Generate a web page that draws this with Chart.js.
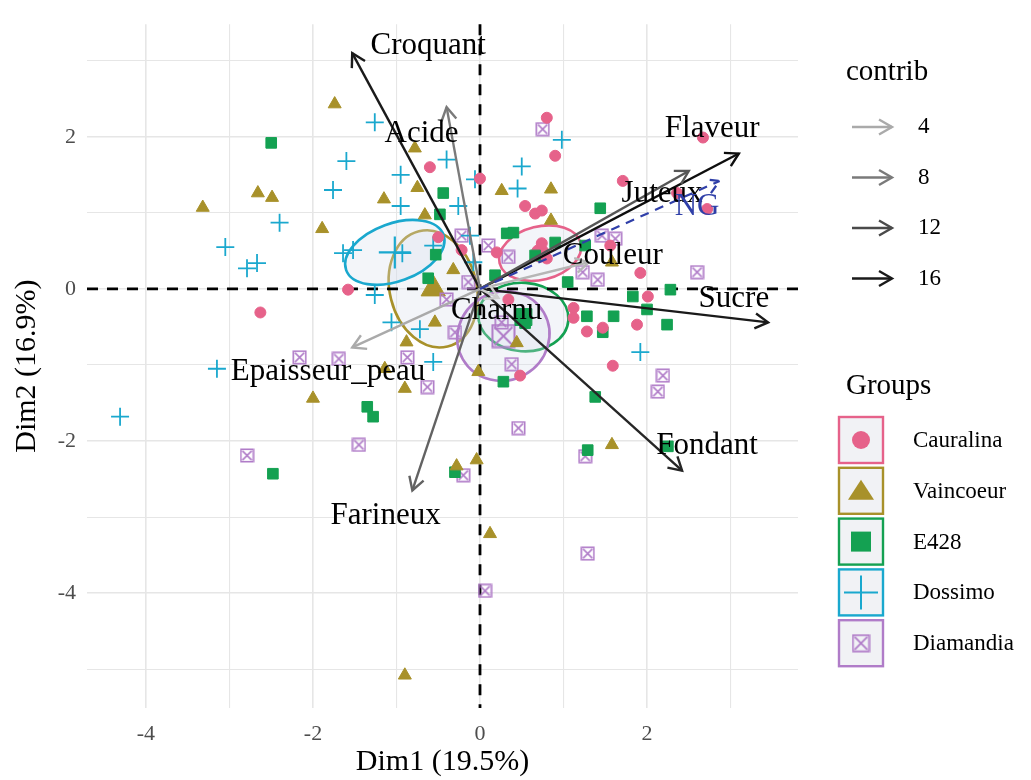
<!DOCTYPE html>
<html>
<head>
<meta charset="utf-8">
<script src="https://cdn.jsdelivr.net/npm/chart.js@4.4.1/dist/chart.umd.min.js"></script>
<style>
  html, body { margin: 0; padding: 0; background: #fff; }
  #wrap { width: 1031px; height: 780px; }
</style>
</head>
<body>
<div id="wrap"><canvas id="biplot" width="1031" height="780"></canvas></div>
<script>
// --- individuals, per cultivar (Dim1, Dim2) ---
const caurX = [0.80, 0.90, -0.60, 0.00, 0.54, 0.66, 0.74, 1.71, 2.36, 2.72, 2.67, 1.92, 2.01, 0.74, 0.80, 0.20, 1.56, 0.34, 1.12, 1.12, 1.28, 1.47, 1.88, 1.59, 0.48, -0.50, -0.22, -1.58, -2.63];
const caurY = [2.25, 1.75, 1.60, 1.45, 1.09, 0.99, 1.03, 1.42, 1.26, 1.05, 1.99, 0.21, -0.10, 0.60, 0.40, 0.48, 0.57, -0.14, -0.25, -0.38, -0.56, -0.51, -0.47, -1.01, -1.14, 0.68, 0.51, -0.01, -0.31];

const vainX = [-1.74, -0.78, -0.75, -2.66, -2.49, -3.32, -1.15, -1.89, -0.66, -0.32, 0.26, 0.85, 0.85, 1.58, -0.54, -0.88, -1.14, -0.90, -2.00, -0.28, -0.04, 1.58, 0.12, 0.44, -0.02, -0.90];
const vainY = [2.43, 1.85, 1.33, 1.26, 1.20, 1.07, 1.18, 0.79, 0.97, 0.25, 1.29, 1.31, 0.90, 0.35, -0.44, -0.70, -1.05, -1.31, -1.44, -2.33, -2.25, -2.05, -3.22, -0.71, -1.09, -5.08];

const e428X = [-2.50, -0.44, -0.48, -0.53, -0.62, 1.44, 0.32, 0.40, 0.66, 0.90, 1.26, 1.05, 2.28, 1.83, 2.00, 1.28, 1.60, 1.47, 2.24, 0.54, 0.28, 1.38, 1.29, 2.25, -0.30, -1.35, -1.28, -2.48, 0.18];
const e428Y = [1.92, 1.26, 0.98, 0.45, 0.14, 1.06, 0.73, 0.74, 0.44, 0.61, 0.57, 0.09, -0.01, -0.10, -0.27, -0.36, -0.36, -0.57, -0.47, -0.45, -1.22, -1.42, -2.12, -2.07, -2.41, -1.55, -1.68, -2.43, 0.18];

const dossX = [-1.26, -1.60, -1.76, -0.95, -0.40, -0.26, -0.06, -0.95, -2.40, -3.05, -2.79, -2.67, -1.64, -1.52, -0.93, -0.08, -1.26, 0.98, 0.50, 0.45, -0.12, -4.31, -3.15, -1.06, -0.72, -0.56, 1.92, -0.56];
const dossY = [2.19, 1.68, 1.30, 1.50, 1.70, 1.09, 1.44, 1.09, 0.87, 0.55, 0.27, 0.34, 0.47, 0.51, 0.47, 0.35, -0.08, 1.96, 1.61, 1.32, 0.70, -1.68, -1.05, -0.44, -0.53, -0.96, -0.83, 0.57];

const diamX = [0.75, 1.46, 1.62, 2.60, 0.10, 0.34, 1.23, 1.41, -0.22, -0.14, -0.40, -2.16, -1.69, -0.87, -0.63, -0.30, -1.45, -2.79, -0.20, 0.38, 2.19, 2.13, 0.46, 1.26, 1.29, 0.06, 0.26];
const diamY = [2.10, 0.70, 0.66, 0.22, 0.57, 0.42, 0.22, 0.12, 0.70, 0.09, -0.14, -0.90, -0.92, -0.90, -1.29, -0.57, -2.05, -2.19, -2.45, -0.99, -1.14, -1.35, -1.83, -2.20, -3.48, -3.97, -0.44];

const groups = ['Cauralina', 'Vaincoeur', 'E428', 'Dossimo', 'Diamandia'];
const groupX = [caurX, vainX, e428X, dossX, diamX];
const groupY = [caurY, vainY, e428Y, dossY, diamY];
const meanX = [0.72, -0.56, 0.52, -1.02, 0.28];
const meanY = [0.47, 0.00, -0.37, 0.48, -0.62];

// --- variables (arrow tips) and contribution ---
const varNames = ['Croquant', 'Acide', 'Flaveur', 'Juteux', 'Couleur', 'Sucre', 'Fondant', 'Farineux', 'Epaisseur_peau', 'Charnu'];
const varX = [-1.53, -0.40, 3.10, 2.50, 1.30, 3.45, 2.42, -0.81, -1.53, 0.22];
const varY = [3.10, 2.39, 1.78, 1.55, 0.35, -0.44, -2.39, -2.65, -0.77, -0.12];
const varContrib = [16, 8, 17, 11, 3, 16, 15, 10, 4, 1];
const suppName = 'NG';
const suppX = 2.87;
const suppY = 1.42;
const contribTicks = [4, 8, 12, 16];
const xTicks = [-4, -2, 0, 2];
const yTicks = [2, 0, -2, -4];

// label anchors (data units)
const labelX = [-0.62, -0.70, 2.78, 2.18, 1.59, 3.04, 2.72, -1.13, -1.82, 0.20];
const labelY = [3.20, 2.04, 2.10, 1.25, 0.44, -0.13, -2.06, -2.98, -1.09, -0.29];
const suppLabel = [2.60, 1.08];

// ellipses: semi-axes in axis units, screen rotation in degrees
const ellRx = [0.50, 0.52, 0.54, 0.62, 0.56];
const ellRy = [0.35, 0.78, 0.45, 0.38, 0.58];
const ellRot = [-14, -14, 4, -20, -30];

const colors = ['#E6628A', '#A8912A', '#14A152', '#1AA8CE', '#B07CC8'];
const SERIF = "'Liberation Serif', 'DejaVu Serif', serif";

const greyFor = (c) => {
    const g = Math.max(10, Math.min(215, Math.round(218 - 12 * c)));
    return `rgb(${g},${g},${g})`;
};

// boxed cross marker for Diamandia
const boxCross = (size, lw) => {
    const c = document.createElement('canvas');
    c.width = c.height = size;
    const g = c.getContext('2d');
    g.strokeStyle = colors[4];
    g.lineWidth = lw;
    const p = lw / 2 + 0.5;
    g.strokeRect(p, p, size - 2 * p, size - 2 * p);
    const q = p + lw;
    g.beginPath();
    g.moveTo(q, q); g.lineTo(size - q, size - q);
    g.moveTo(size - q, q); g.lineTo(q, size - q);
    g.stroke();
    return c;
};

const styles = ['circle', 'triangle', 'rect', 'cross', boxCross(15, 1.6)];
const radii = [5.5, 7.5, 7.5, 9, 7.5];
const meanStyles = ['circle', 'triangle', 'rect', 'cross', boxCross(25, 2)];
const meanRadii = [9, 14, 12, 16, 12.5];

const datasets = [];
groups.forEach((name, i) => {
    datasets.push({
        label: name,
        data: groupX[i].map((v, k) => ({ x: v, y: groupY[i][k] })),
        pointStyle: styles[i],
        pointRadius: radii[i],
        backgroundColor: colors[i],
        borderColor: colors[i],
        borderWidth: i === 3 ? 1.8 : 1
    });
});
groups.forEach((name, i) => {
    datasets.push({
        label: name + ' mean',
        data: [{ x: meanX[i], y: meanY[i] }],
        pointStyle: meanStyles[i],
        pointRadius: meanRadii[i],
        backgroundColor: colors[i],
        borderColor: colors[i],
        borderWidth: i === 3 ? 2.2 : 1
    });
});

const drawArrow = (ctx, x0, y0, x1, y1, color, width, dash) => {
    ctx.save();
    ctx.strokeStyle = color;
    ctx.lineWidth = width;
    ctx.setLineDash(dash || []);
    ctx.beginPath();
    ctx.moveTo(x0, y0);
    ctx.lineTo(x1, y1);
    ctx.stroke();
    const a = Math.atan2(y1 - y0, x1 - x0), h = 15, s = Math.PI / 6;
    ctx.beginPath();
    ctx.moveTo(x1 - h * Math.cos(a - s), y1 - h * Math.sin(a - s));
    ctx.lineTo(x1, y1);
    ctx.lineTo(x1 - h * Math.cos(a + s), y1 - h * Math.sin(a + s));
    ctx.stroke();
    ctx.restore();
};

const drawKeySymbol = (ctx, i, cx, cy) => {
    ctx.save();
    ctx.fillStyle = colors[i];
    ctx.strokeStyle = colors[i];
    if (i === 0) {
        ctx.beginPath(); ctx.arc(cx, cy, 9, 0, Math.PI * 2); ctx.fill();
    } else if (i === 1) {
        ctx.beginPath();
        ctx.moveTo(cx, cy - 11); ctx.lineTo(cx + 13, cy + 9); ctx.lineTo(cx - 13, cy + 9);
        ctx.closePath(); ctx.fill();
    } else if (i === 2) {
        ctx.fillRect(cx - 10, cy - 10, 20, 20);
    } else if (i === 3) {
        ctx.lineWidth = 2;
        ctx.beginPath();
        ctx.moveTo(cx - 17, cy); ctx.lineTo(cx + 17, cy);
        ctx.moveTo(cx, cy - 17); ctx.lineTo(cx, cy + 17);
        ctx.stroke();
    } else {
        ctx.drawImage(boxCross(19, 1.8), cx - 9.5, cy - 9.5);
    }
    ctx.restore();
};

const biplotExtras = {
    id: 'biplotExtras',
    beforeDatasetsDraw(chart) {
        const { ctx, scales: { x, y }, chartArea } = chart;
        const ux = x.getPixelForValue(1) - x.getPixelForValue(0);
        const uy = y.getPixelForValue(0) - y.getPixelForValue(1);
        // concentration ellipses
        groups.forEach((g, i) => {
            ctx.save();
            ctx.beginPath();
            ctx.ellipse(x.getPixelForValue(meanX[i]), y.getPixelForValue(meanY[i]),
                ellRx[i] * ux, ellRy[i] * uy, ellRot[i] * Math.PI / 180, 0, Math.PI * 2);
            ctx.fillStyle = 'rgba(214,222,234,0.30)';
            ctx.fill();
            ctx.lineWidth = 2.6;
            ctx.strokeStyle = colors[i];
            ctx.stroke();
            ctx.restore();
        });
        // dashed zero lines
        ctx.save();
        ctx.strokeStyle = '#000';
        ctx.lineWidth = 2.8;
        ctx.setLineDash([11, 9]);
        ctx.beginPath();
        ctx.moveTo(chartArea.left, y.getPixelForValue(0));
        ctx.lineTo(chartArea.right, y.getPixelForValue(0));
        ctx.moveTo(x.getPixelForValue(0), chartArea.top);
        ctx.lineTo(x.getPixelForValue(0), chartArea.bottom);
        ctx.stroke();
        ctx.restore();
    },
    afterDatasetsDraw(chart) {
        const { ctx, scales: { x, y } } = chart;
        const ox = x.getPixelForValue(0), oy = y.getPixelForValue(0);
        varNames.forEach((n, i) => {
            drawArrow(ctx, ox, oy, x.getPixelForValue(varX[i]), y.getPixelForValue(varY[i]),
                greyFor(varContrib[i]), 2.4);
        });
        drawArrow(ctx, ox, oy, x.getPixelForValue(suppX), y.getPixelForValue(suppY), '#2F3FA8', 2.2, [9, 7]);

        ctx.save();
        ctx.font = `31px ${SERIF}`;
        ctx.textAlign = 'center';
        ctx.textBaseline = 'middle';
        ctx.fillStyle = '#000';
        varNames.forEach((n, i) => {
            ctx.fillText(n, x.getPixelForValue(labelX[i]), y.getPixelForValue(labelY[i]));
        });
        ctx.fillStyle = '#2F3FA8';
        ctx.fillText(suppName, x.getPixelForValue(suppLabel[0]), y.getPixelForValue(suppLabel[1]));
        ctx.restore();
    },
    afterDraw(chart) {
        const { ctx } = chart;
        const lx = 846;
        ctx.save();
        ctx.textBaseline = 'middle';
        ctx.textAlign = 'left';
        ctx.fillStyle = '#000';
        ctx.font = `29px ${SERIF}`;
        ctx.fillText('contrib', lx, 72);
        ctx.font = `23px ${SERIF}`;
        contribTicks.forEach((c, k) => {
            const cy = 127 + k * 50.5;
            drawArrow(ctx, lx + 6, cy, lx + 46, cy, greyFor(c), 2.4);
            ctx.fillStyle = '#000';
            ctx.fillText(String(c), lx + 72, cy);
        });
        ctx.font = `29px ${SERIF}`;
        ctx.fillText('Groups', lx, 386);
        ctx.font = `23px ${SERIF}`;
        groups.forEach((g, i) => {
            const cy = 440 + i * 50.8;
            ctx.fillStyle = '#F1F2F5';
            ctx.fillRect(lx - 7, cy - 23, 44, 46);
            ctx.lineWidth = 2.4;
            ctx.strokeStyle = colors[i];
            ctx.strokeRect(lx - 7, cy - 23, 44, 46);
            drawKeySymbol(ctx, i, lx + 15, cy);
            ctx.fillStyle = '#000';
            ctx.fillText(g, lx + 67, cy + 1);
        });
        ctx.restore();
    }
};

new Chart(document.getElementById('biplot'), {
    type: 'scatter',
    data: { datasets: datasets },
    options: {
        responsive: false,
        animation: false,
        events: [],
        layout: { autoPadding: false, padding: { left: 0, top: 15, right: 233, bottom: 0 } },
        plugins: { legend: { display: false }, tooltip: { enabled: false } },
        scales: {
            x: {
                type: 'linear',
                min: -4.706,
                max: 3.808,
                afterFit: (s) => { s.height = 72; },
                border: { display: false },
                grid: {
                    drawTicks: false,
                    color: '#E6E6E6',
                    lineWidth: (c) => (c.tick && xTicks.includes(c.tick.value) ? 1.6 : 1.1)
                },
                ticks: {
                    stepSize: 1,
                    includeBounds: false,
                    padding: 13,
                    color: '#4D4D4D',
                    font: { family: SERIF, size: 22 },
                    callback: (v) => (xTicks.includes(v) ? String(v) : '')
                },
                title: {
                    display: true,
                    text: 'Dim1 (19.5%)',
                    color: '#000',
                    font: { family: SERIF, size: 30, lineHeight: 1.2 },
                    padding: { top: 0, bottom: 0 }
                }
            },
            y: {
                type: 'linear',
                min: -5.51,
                max: 3.48,
                afterFit: (s) => { s.width = 87; },
                border: { display: false },
                grid: {
                    drawTicks: false,
                    color: '#E6E6E6',
                    lineWidth: (c) => (c.tick && yTicks.includes(c.tick.value) ? 1.6 : 1.1)
                },
                ticks: {
                    stepSize: 1,
                    includeBounds: false,
                    padding: 11,
                    color: '#4D4D4D',
                    font: { family: SERIF, size: 22 },
                    callback: (v) => (yTicks.includes(v) ? String(v) : '')
                },
                title: {
                    display: true,
                    text: 'Dim2 (16.9%)',
                    color: '#000',
                    font: { family: SERIF, size: 30, lineHeight: 1.2 },
                    padding: { top: 9, bottom: 0 }
                }
            }
        }
    },
    plugins: [biplotExtras]
});
</script>
</body>
</html>
